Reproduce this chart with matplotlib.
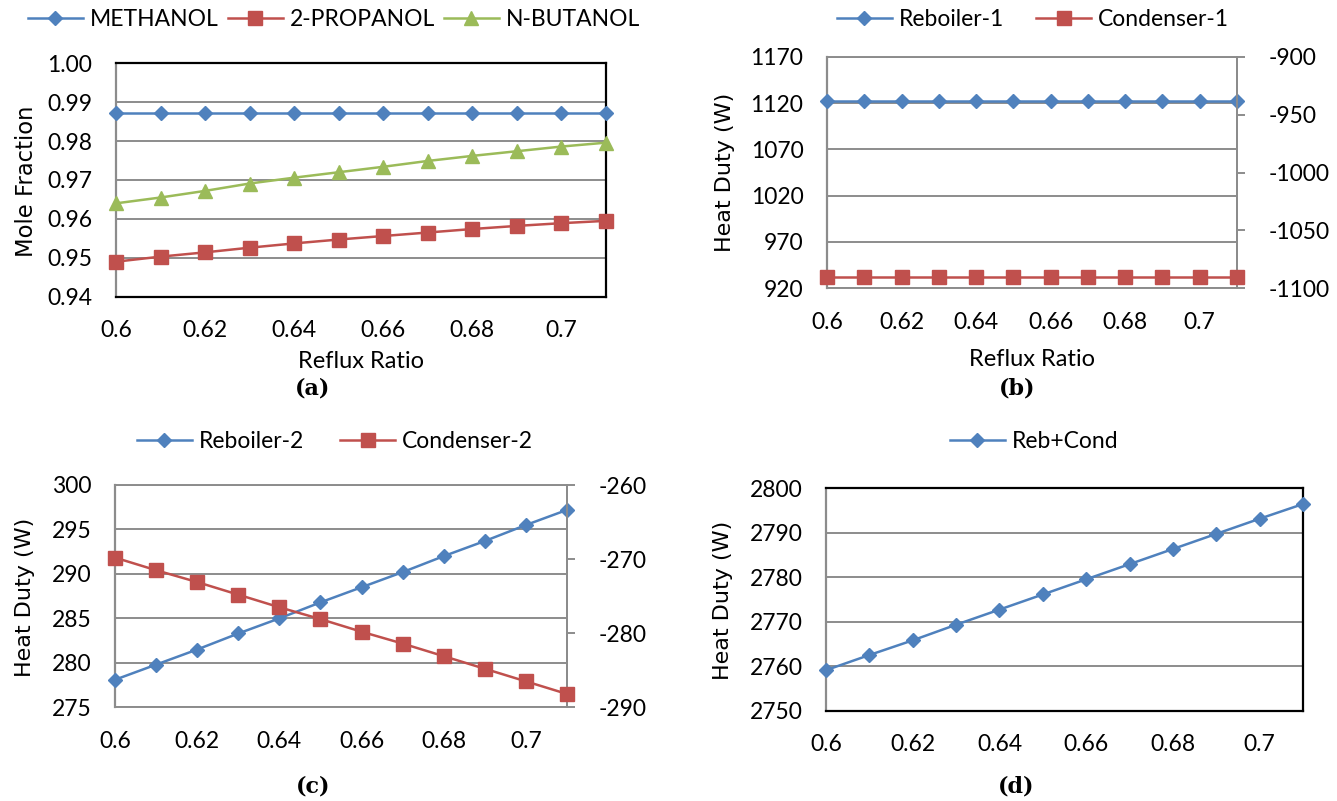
import matplotlib
matplotlib.use("Agg")
import matplotlib.pyplot as plt

# ---------------- data ----------------
reflux = [0.60, 0.61, 0.62, 0.63, 0.64, 0.65, 0.66, 0.67, 0.68, 0.69, 0.70, 0.71]
x_ticks = [0.60, 0.62, 0.64, 0.66, 0.68, 0.70]
x_tick_labels = ["0.6", "0.62", "0.64", "0.66", "0.68", "0.7"]

methanol = [0.9871, 0.9871, 0.9871, 0.9871, 0.9871, 0.9871,
            0.9871, 0.9871, 0.9871, 0.9871, 0.9871, 0.9871]
propanol = [0.9490, 0.9503, 0.9514, 0.9526, 0.9537, 0.9547,
            0.9556, 0.9565, 0.9574, 0.9582, 0.9589, 0.9595]
butanol = [0.9640, 0.9655, 0.9672, 0.9691, 0.9706, 0.9720,
           0.9734, 0.9749, 0.9762, 0.9774, 0.9786, 0.9796]

reboiler1 = [1122, 1122, 1122, 1122, 1122, 1122,
             1122, 1122, 1122, 1122, 1122, 1122]
condenser1 = [-1090, -1090, -1090, -1090, -1090, -1090,
              -1090, -1090, -1090, -1090, -1090, -1090]

reboiler2 = [278.1, 279.8, 281.5, 283.3, 285.0, 286.8,
             288.5, 290.2, 292.0, 293.7, 295.5, 297.2]
condenser2 = [-269.8, -271.5, -273.1, -274.8, -276.5, -278.1,
              -279.8, -281.4, -283.1, -284.8, -286.5, -288.2]

reb_cond = [2759.1, 2762.5, 2765.8, 2769.3, 2772.7, 2776.1,
            2779.5, 2782.9, 2786.3, 2789.7, 2793.1, 2796.4]

# ---------------- style ----------------
BLUE = "#4F81BD"
RED = "#C0504D"
GREEN = "#9BBB59"
GRID = "#8C8C8C"
TICKFONT = ["Lato", "DejaVu Sans"]
LABELFONT = ["DejaVu Sans"]
FS = 16.5

W, H = 1337, 801
fig = plt.figure(figsize=(W / 100, H / 100), dpi=100)


def px_axes(l, t, r, b):
    return fig.add_axes([l / W, 1 - b / H, (r - l) / W, (b - t) / H])


def style_axes(ax, frame_black):
    ax.set_xlim(0.60, 0.71)
    ax.set_xticks(x_ticks)
    ax.set_xticklabels(x_tick_labels, family=TICKFONT, fontsize=FS)
    ax.tick_params(axis="x", length=0, pad=17)
    ax.tick_params(axis="y", length=0, pad=17)
    for lab in ax.get_yticklabels():
        lab.set_family(TICKFONT)
        lab.set_fontsize(FS)
    ax.yaxis.grid(True, color=GRID, linewidth=1.4)
    ax.set_axisbelow(True)
    for side in ["top", "right", "bottom"]:
        ax.spines[side].set_color("black" if frame_black else GRID)
        ax.spines[side].set_linewidth(1.6 if frame_black else 1.4)
    ax.spines["left"].set_color(GRID)
    ax.spines["left"].set_linewidth(1.6)


def style_twin(tw):
    tw.tick_params(axis="y", which="both", right=True, length=6, width=1.4,
                   color=GRID, direction="out", pad=17)
    for lab in tw.get_yticklabels():
        lab.set_family(TICKFONT)
        lab.set_fontsize(FS)
    tw.spines["right"].set_color(GRID)
    tw.spines["right"].set_linewidth(1.4)
    for side in ["top", "left", "bottom"]:
        tw.spines[side].set_visible(False)


def legend(handles, labels, cx, cy, colsp):
    fig.legend(handles, labels, loc="center", bbox_to_anchor=(cx / W, 1 - cy / H),
               bbox_transform=fig.transFigure, ncol=len(handles), frameon=False,
               prop={"family": TICKFONT, "size": FS}, handlelength=2.4,
               handletextpad=0.3, columnspacing=colsp, borderpad=0)


def panel_letter(x, y, s):
    fig.text(x / W, 1 - y / H, s, ha="center", va="center",
             family=["DejaVu Serif"], fontweight="bold", fontsize=16)


lw = 1.8
# ---------------- (a) ----------------
axa = px_axes(116, 63.3, 606, 296.7)
l1, = axa.plot(reflux, methanol, color=BLUE, lw=lw, marker="D", ms=7.4, zorder=3, clip_on=False)
l2, = axa.plot(reflux, propanol, color=RED, lw=lw, marker="s", ms=9.5, zorder=3, clip_on=False)
l3, = axa.plot(reflux, butanol, color=GREEN, lw=lw, marker="^", ms=10, zorder=3, clip_on=False)
axa.set_ylim(0.94, 1.00)
axa.set_yticks([0.94, 0.95, 0.96, 0.97, 0.98, 0.99, 1.00])
axa.set_yticklabels(["0.94", "0.95", "0.96", "0.97", "0.98", "0.99", "1.00"])
style_axes(axa, True)
legend([l1, l2, l3], ["METHANOL", "2-PROPANOL", "N-BUTANOL"], 334, 20, 0.4)
fig.text(27 / W, 1 - 181 / H, "Mole Fraction", rotation=90, ha="center", va="center",
         family=LABELFONT, fontsize=16.3)
fig.text(361 / W, 1 - 361 / H, "Reflux Ratio", ha="center", va="center",
         family=TICKFONT, fontsize=17)
panel_letter(313, 388, "(a)")

# ---------------- (b) ----------------
axb = px_axes(827, 56.7, 1237, 288.3)
b1, = axb.plot(reflux, reboiler1, color=BLUE, lw=lw, marker="D", ms=7.4, zorder=3, clip_on=False)
axb.set_ylim(920, 1170)
axb.set_yticks([920, 970, 1020, 1070, 1120, 1170])
axb.set_yticklabels(["920", "970", "1020", "1070", "1120", "1170"])
style_axes(axb, False)
twb = axb.twinx()
b2, = twb.plot(reflux, condenser1, color=RED, lw=lw, marker="s", ms=10, zorder=3, clip_on=False)
twb.set_ylim(-1100, -900)
twb.set_yticks([-1100, -1050, -1000, -950, -900])
twb.set_yticklabels(["-1100", "-1050", "-1000", "-950", "-900"])
style_twin(twb)
legend([b1, b2], ["Reboiler-1", "Condenser-1"], 1033, 20, 1.4)
fig.text(725 / W, 1 - 172 / H, "Heat Duty (W)", rotation=90, ha="center", va="center",
         family=LABELFONT, fontsize=16)
fig.text(1032 / W, 1 - 360 / H, "Reflux Ratio", ha="center", va="center",
         family=TICKFONT, fontsize=17)
panel_letter(1017, 388, "(b)")

# ---------------- (c) ----------------
axc = px_axes(115, 485, 567, 707.3)
c1, = axc.plot(reflux, reboiler2, color=BLUE, lw=lw, marker="D", ms=7.4, zorder=3, clip_on=False)
axc.set_ylim(275, 300)
axc.set_yticks([275, 280, 285, 290, 295, 300])
axc.set_yticklabels(["275", "280", "285", "290", "295", "300"])
style_axes(axc, False)
twc = axc.twinx()
c2, = twc.plot(reflux, condenser2, color=RED, lw=lw, marker="s", ms=10.5, zorder=3, clip_on=False)
twc.set_ylim(-290, -260)
twc.set_yticks([-290, -280, -270, -260])
twc.set_yticklabels(["-290", "-280", "-270", "-260"])
style_twin(twc)
legend([c1, c2], ["Reboiler-2", "Condenser-2"], 335, 442, 1.6)
fig.text(25 / W, 1 - 597 / H, "Heat Duty (W)", rotation=90, ha="center", va="center",
         family=LABELFONT, fontsize=16)
panel_letter(313, 787, "(c)")

# ---------------- (d) ----------------
axd = px_axes(826, 488, 1303, 710.7)
d1, = axd.plot(reflux, reb_cond, color=BLUE, lw=lw, marker="D", ms=7.4, zorder=3, clip_on=False)
axd.set_ylim(2750, 2800)
axd.set_yticks([2750, 2760, 2770, 2780, 2790, 2800])
axd.set_yticklabels(["2750", "2760", "2770", "2780", "2790", "2800"])
style_axes(axd, True)
legend([d1], ["Reb+Cond"], 1034, 442, 1.5)
fig.text(723 / W, 1 - 600 / H, "Heat Duty (W)", rotation=90, ha="center", va="center",
         family=LABELFONT, fontsize=16)
panel_letter(1016, 787, "(d)")

fig.savefig("out.png", dpi=100)
